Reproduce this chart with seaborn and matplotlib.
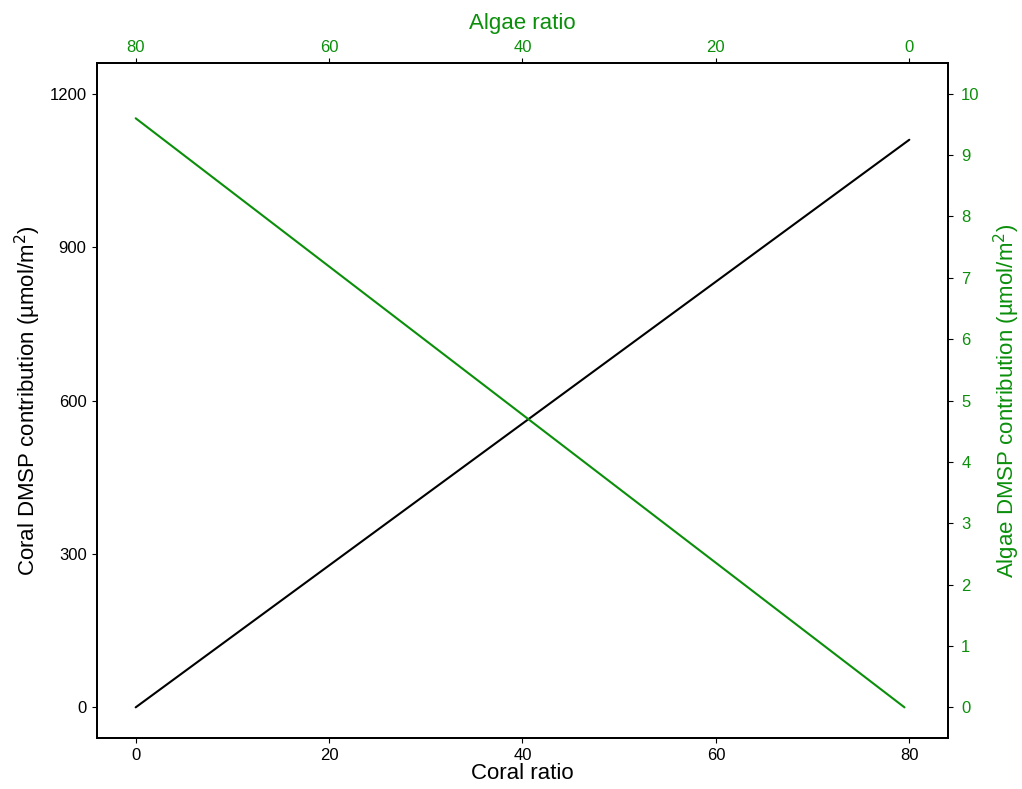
import matplotlib
matplotlib.use("Agg")
import matplotlib.pyplot as plt
import seaborn as sns
import pandas as pd

sns.set_style("ticks")
plt.rcParams['font.family'] = ['Liberation Sans', 'DejaVu Sans']
plt.rcParams.update({
    "text.color": "black",
    "axes.labelcolor": "black",
    "xtick.color": "black",
    "ytick.color": "black",
    "axes.edgecolor": "black",
})

GREEN = "#0b8f0b"

# Coral contribution against coral ratio
coral_ratio = [0, 80]
coral_dmsp = [0, 1110]

# Algae contribution against algae ratio (top axis, reversed)
algae_ratio = [80, 0.5]
algae_dmsp = [9.6, 0]

coral_df = pd.DataFrame({"ratio": coral_ratio, "dmsp": coral_dmsp})
algae_df = pd.DataFrame({"ratio": algae_ratio, "dmsp": algae_dmsp})

fig = plt.figure(figsize=(10.22, 7.89), dpi=100)
ax = fig.add_axes([0.0949, 0.0646, 0.8327, 0.8555])

sns.lineplot(data=coral_df, x="ratio", y="dmsp", ax=ax, color="black", linewidth=1.5)
ax.set_xlim(-4, 84)
ax.set_ylim(-60, 1260)
ax.set_xticks([0, 20, 40, 60, 80])
ax.set_yticks([0, 300, 600, 900, 1200])
ax.set_xlabel("Coral ratio", fontsize=16, labelpad=0)
ax.set_ylabel("Coral DMSP contribution (µmol/m$^2$)", fontsize=16, labelpad=5)
ax.tick_params(labelsize=12, direction="out", length=3.5, pad=4)

# twin axes sharing the plot area: top x (algae ratio) and right y (algae DMSP)
ax2 = ax.twinx().twiny()
sns.lineplot(data=algae_df, x="ratio", y="dmsp", ax=ax2, color=GREEN, linewidth=1.5)
ax2.set_xlim(84, -4)
ax2.set_ylim(-0.5, 10.5)
ax2.set_xticks([80, 60, 40, 20, 0])
ax2.set_xlabel("Algae ratio", fontsize=16, color=GREEN, labelpad=8)
ax2.set_ylabel("")
ax2.tick_params(axis="x", labelsize=12, labelcolor=GREEN, length=3.5, pad=2)

axr = ax2.figure.axes[1]
axr.set_ylim(-0.5, 10.5)
axr.set_yticks(range(0, 11))
axr.set_ylabel("Algae DMSP contribution (µmol/m$^2$)", fontsize=16, color=GREEN, labelpad=9)
axr.tick_params(axis="y", labelsize=12, labelcolor=GREEN, length=3.5, pad=6)

for a in (ax, ax2, axr):
    for s in a.spines.values():
        s.set_visible(True)
        s.set_linewidth(1.2)

fig.savefig("out.png", dpi=100)
